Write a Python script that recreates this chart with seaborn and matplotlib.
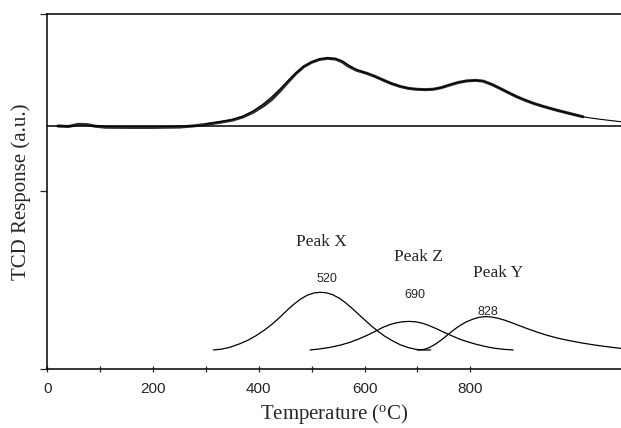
#!/usr/bin/env python
# coding: utf-8

import numpy as np
import pandas as pd
import matplotlib
matplotlib.use("Agg")
import matplotlib.pyplot as plt
import seaborn as sns

# Measured TPR profile (upper trace)
meas_temp = [20, 40, 58, 75, 90, 110, 150, 200, 250, 275, 300, 325, 350, 370,
             390, 410, 425, 440, 455, 470, 485, 500, 515, 530, 545, 558, 570,
             585, 604, 620, 635, 650, 667, 683, 698, 715, 730, 745, 761, 777,
             793, 810, 824, 840, 856, 872, 887, 903, 919, 935, 950, 966, 982,
             998, 1013]
meas_resp = [1.369, 1.366, 1.378, 1.377, 1.368, 1.362, 1.361, 1.361, 1.363, 1.369,
             1.378, 1.389, 1.402, 1.420, 1.448, 1.485, 1.520, 1.566, 1.616, 1.664,
             1.703, 1.728, 1.744, 1.750, 1.746, 1.730, 1.705, 1.683, 1.666, 1.648,
             1.628, 1.609, 1.592, 1.581, 1.576, 1.574, 1.576, 1.585, 1.600, 1.614,
             1.623, 1.626, 1.622, 1.604, 1.581, 1.557, 1.535, 1.515, 1.497, 1.482,
             1.469, 1.456, 1.444, 1.432, 1.421]

# Fitted envelope (thin line)
fit_temp = [300, 325, 350, 370, 390, 410, 425, 440, 455, 470, 485, 500, 515, 530,
            545, 558, 570, 585, 604, 620, 635, 650, 667, 683, 698, 715, 730, 745,
            761, 777, 793, 810, 824, 840, 856, 872, 887, 903, 919, 935, 950, 966,
            982, 998, 1013, 1030, 1045, 1065, 1085]
fit_resp = [1.381, 1.392, 1.405, 1.424, 1.455, 1.497, 1.535, 1.578, 1.624, 1.667,
            1.704, 1.729, 1.745, 1.752, 1.748, 1.735, 1.712, 1.686, 1.666, 1.648,
            1.628, 1.609, 1.592, 1.581, 1.576, 1.574, 1.576, 1.585, 1.600, 1.614,
            1.623, 1.626, 1.622, 1.604, 1.581, 1.557, 1.535, 1.515, 1.497, 1.482,
            1.469, 1.456, 1.444, 1.432, 1.421, 1.413, 1.407, 1.400, 1.393]

baseline = 1.369

# Deconvoluted peaks (lower traces)
peak_x_temp = [314, 330, 345, 364, 380, 395, 410, 425, 440, 455, 468, 480, 492,
               504, 516, 528, 540, 552, 564, 576, 588, 600, 612, 625, 638, 652,
               667, 682, 695, 705, 725]
peak_x_resp = [0.107, 0.112, 0.122, 0.142, 0.163, 0.188, 0.218, 0.252, 0.292, 0.335,
               0.369, 0.396, 0.416, 0.428, 0.432, 0.429, 0.418, 0.399, 0.373, 0.343,
               0.310, 0.277, 0.245, 0.213, 0.185, 0.160, 0.137, 0.121, 0.112, 0.107,
               0.107]

peak_z_temp = [497, 515, 535, 555, 572, 590, 605, 620, 635, 648, 660, 672, 684,
               696, 708, 720, 735, 750, 765, 780, 795, 810, 828, 845, 862, 881]
peak_z_resp = [0.107, 0.113, 0.122, 0.135, 0.150, 0.170, 0.190, 0.212, 0.235, 0.250,
               0.260, 0.266, 0.268, 0.266, 0.259, 0.247, 0.228, 0.207, 0.187, 0.168,
               0.153, 0.140, 0.127, 0.117, 0.111, 0.107]

peak_y_temp = [700, 712, 722, 733, 745, 757, 769, 781, 793, 805, 817, 828, 840,
               852, 865, 878, 892, 908, 925, 945, 965, 985, 1010, 1035, 1060, 1085]
peak_y_resp = [0.107, 0.110, 0.120, 0.138, 0.163, 0.192, 0.221, 0.246, 0.266, 0.281,
               0.291, 0.295, 0.293, 0.286, 0.275, 0.261, 0.245, 0.227, 0.209, 0.190,
               0.174, 0.161, 0.147, 0.135, 0.125, 0.116]

peak_names = ["Peak X", "Peak Z", "Peak Y"]
peak_name_pos = [(519, 0.717), (701, 0.630), (853, 0.540)]
peak_centres = ["520", "690", "828"]
centre_pos = [(528, 0.505), (696, 0.417), (834, 0.323)]

xticks = [0, 100, 200, 300, 400, 500, 600, 700, 800]
xticklabels = ["0", "", "200", "", "400", "", "600", "", "800"]

SERIF = ["Liberation Serif", "DejaVu Serif"]
SANS = ["Liberation Sans", "DejaVu Sans"]


def draw_chart():
    sns.set_style("ticks")
    plt.rcParams["font.family"] = SANS
    plt.rcParams["mathtext.fontset"] = "custom"
    plt.rcParams["mathtext.rm"] = "Liberation Serif"

    fig = plt.figure(figsize=(6.21, 4.28), dpi=100)
    ax = fig.add_axes([0.0762, 0.1379, 0.9238, 0.8294])

    meas = pd.DataFrame({"T": meas_temp, "R": meas_resp})
    fit = pd.DataFrame({"T": fit_temp, "R": fit_resp})
    sns.lineplot(data=meas, x="T", y="R", ax=ax, color="#2a2a2a", lw=2.2,
                 estimator=None, sort=False)
    sns.lineplot(data=fit, x="T", y="R", ax=ax, color="black", lw=0.8,
                 estimator=None, sort=False)
    ax.axhline(baseline, color="black", lw=1.1)

    for t, r in [(peak_x_temp, peak_x_resp), (peak_z_temp, peak_z_resp),
                 (peak_y_temp, peak_y_resp)]:
        df = pd.DataFrame({"T": t, "R": r})
        sns.lineplot(data=df, x="T", y="R", ax=ax, color="black", lw=0.9,
                     estimator=None, sort=False)

    for name, (x, y) in zip(peak_names, peak_name_pos):
        ax.text(x, y, name, ha="center", va="center", fontsize=12.5,
                family=SERIF)
    for lab, (x, y) in zip(peak_centres, centre_pos):
        ax.text(x, y, lab, ha="center", va="center", fontsize=9, family=SANS)

    ax.set_xlim(0, 1085)
    ax.set_ylim(0, 2)
    ax.set_xticks(xticks)
    ax.set_xticklabels(xticklabels, fontsize=11)
    ax.set_yticks([0, 1, 2])
    ax.set_yticklabels([])
    ax.tick_params(axis="x", direction="inout", length=5, width=0.9, pad=7)
    ax.tick_params(axis="y", direction="out", length=5, width=0.9)

    ax.spines["right"].set_visible(False)
    for s in ["left", "bottom", "top"]:
        ax.spines[s].set_linewidth(1.1)
        ax.spines[s].set_color("black")

    ax.set_xlabel(r"Temperature ($\mathregular{^{o}}$C)", fontsize=15,
                  family=SERIF, labelpad=4)
    ax.set_ylabel("TCD Response (a.u.)", fontsize=15, family=SERIF,
                  labelpad=3)

    fig.savefig("out.png", dpi=100)


def main():
    draw_chart()


if __name__ == "__main__":
    main()
